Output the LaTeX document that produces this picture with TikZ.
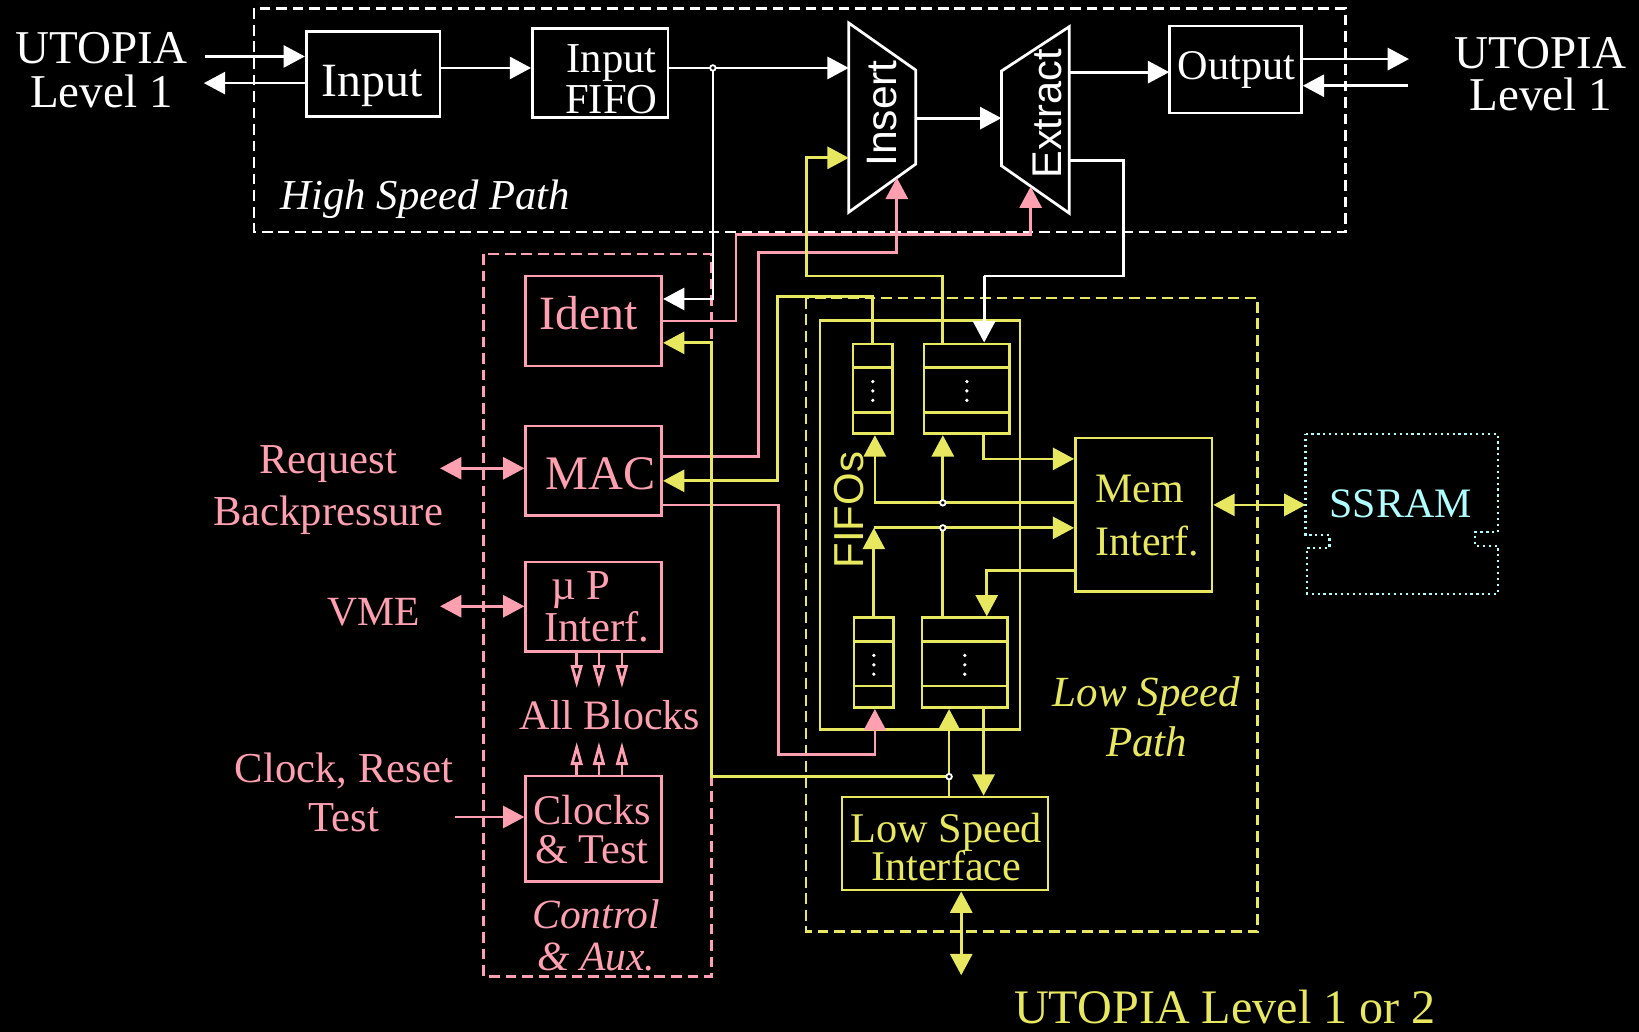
\documentclass[tikz,border=0pt]{standalone}
\usepackage{fontspec}
\setmainfont{Liberation Serif}
\setsansfont{Liberation Sans}
\usepackage{tikz}
\usetikzlibrary{calc, arrows.meta}
\usepackage{tkz-euclide}

\definecolor{pinkc}{RGB}{255,160,176}
\definecolor{ylwc}{RGB}{232,232,96}
\definecolor{cyanc}{RGB}{176,255,255}

\tikzset{
  >={Triangle[length=5.8pt,width=6pt]},
  wht/.style={draw=white, line width=0.75pt},
  pnk/.style={draw=pinkc, line width=0.75pt},
  ylw/.style={draw=ylwc, line width=0.75pt},
  region/.style={dash pattern=on 2.9pt off 1.6pt},
  blk/.style={rectangle, inner sep=0pt, fill=black},
  txt/.style={inner sep=0pt, anchor=base, align=center},
  jdot/.style={draw=white, fill=black, line width=0.5pt},
  hollow/.style={-{Triangle[open,length=6.3pt,width=3.2pt]}}
}

\begin{document}
\begin{tikzpicture}[x=0.01cm, y=-0.01cm]
\fill[black] (0,0) rectangle (1568,987);
\useasboundingbox (0,0) rectangle (1568,987);

% regions
\draw[wht, region] (243,8) rectangle (1287,222);
\draw[pnk, region] (462.6,243) rectangle (681,934);
\draw[ylw, region] (771,285) rectangle (1203,891);

% points
\tkzDefPoints{812/22/insTL, 876/67/insTR, 876/157/insBR, 812/203/insBL,
  958/68/extTL, 1023/25.5/extTR, 1023/204/extBR, 958/158.5/extBL}
\tkzDefPoints{196/54/uinL, 195/79.5/uoutL, 682/65/jw, 682/286/wId,
  1075/153.7/wE1, 941.5/264/wE2, 1348/56.5/uinR, 1347/82/uoutR}
\tkzDefPoints{704/224/pI1, 986/178.5/pI2, 726/437/pM0, 858/241.7/pM1,
  858/170/pM2, 744.6/483/pM3, 837/722/pM4, 421/448/rq, 421/580/vme, 435/781.6/crt}
\tkzDefPoints{744/284/yA, 744/460/yB, 902/264/yC, 771.7/151/yD, 908/743/jy,
  681/328/yE, 941/720/yF, 941/439/yG, 837/481/yH, 902/481/jm1, 836/505/yI,
  902/505/jm2, 944/546/yJ, 919.6/933/lsBus, 1249/483/sram}

% high speed path
\node[blk, wht, minimum width=1.28cm, minimum height=0.815cm] (inp) at (357,70.7) {};
\node[blk, wht, minimum width=1.295cm, minimum height=0.856cm] (ififo) at (574.2,69.8) {};
\node[blk, wht, minimum width=1.264cm, minimum height=0.83cm] (out) at (1181.8,66.5) {};
\draw[wht] (insTL) -- (insTR) -- (insBR) -- (insBL) -- cycle;
\draw[wht] (extTL) -- (extTR) -- (extBR) -- (extBL) -- cycle;

% control & aux
\node[blk, pnk, minimum width=1.3cm, minimum height=0.86cm] (ident) at (568,307) {};
\node[blk, pnk, minimum width=1.3cm, minimum height=0.855cm] (mac) at (568,450.2) {};
\node[blk, pnk, minimum width=1.3cm, minimum height=0.858cm] (up) at (568,580.5) {};
\node[blk, pnk, minimum width=1.3cm, minimum height=1.011cm] (clk) at (568,793) {};

% low speed path
\draw[ylw] (784.5,306.8) rectangle (975.8,698);
\foreach \f/\cx/\cy/\w in {fTL/835/372/0.38cm, fTR/925/372/0.82cm,
    fBL/836/634/0.38cm, fBR/923/634/0.82cm}{
  \node[blk, ylw, minimum width=\w, minimum height=0.86cm] (\f) at (\cx,\cy) {};
  \draw[ylw] ($(\f.north west)+(0,24)$) -- ($(\f.north east)+(0,24)$);
  \draw[ylw] ($(\f.south west)+(0,-22)$) -- ($(\f.south east)+(0,-22)$);
  \foreach \d in {-7,2,11}
    \fill[white] ($(\f.center)+(0,\d)$) circle (0.5pt);
}
\node[blk, ylw, minimum width=1.305cm, minimum height=1.47cm] (mem) at (1094.2,492.5) {};
\node[blk, ylw, minimum width=1.97cm, minimum height=0.89cm] (lsi) at (904.1,807) {};
\draw[draw=cyanc, line width=0.6pt, dash pattern=on 0.6pt off 1pt]
  (1249,415) -- (1433,415) -- (1433,509) -- (1411,509) -- (1411,522) -- (1433,522)
  -- (1433,568) -- (1250.5,568) -- (1250.5,524) -- (1272,524) -- (1272,512)
  -- (1249,512) -- cycle;

% white connectors
\draw[wht,->] (uinL) -- (uinL -| inp.west);
\draw[wht,->] (uoutL -| inp.west) -- (uoutL);
\draw[wht,->] (inp.east |- jw) -- (ififo.west |- jw);
\draw[wht,->] (ififo.east |- jw) -- (jw -| insTL);
\draw[wht,->] (jw) -- (wId) -- (wId -| ident.east);
\draw[wht,->] (876,113) -- (958,113);
\draw[wht,->] (out.west -| extTR) ++(0,2.5) -- ++(95.6,0);
\draw[wht] (extTR |- wE1) -- (wE1) |- (wE2);
\draw[wht,->] (wE2) -- (wE2 |- fTR.north);
\draw[wht,->] (uinR -| out.east) -- (uinR);
\draw[wht,->] (uoutR) -- (uoutR -| out.east);

% pink connectors
\draw[pnk,->] (ident.east) -| (pI1) -| (pI2);
\draw[pnk,->] (mac.east |- pM0) -- (pM0) |- (pM1) -- (pM2);
\draw[pnk,->] (mac.east |- pM3) -- (pM3) |- (pM4) -- (pM4 |- fBL.south);
\draw[pnk,<->] (rq) -- (rq -| mac.west);
\draw[pnk,<->] (vme) -- (vme -| up.west);
\draw[pnk,->] (crt) -- (crt -| clk.west);
\foreach \dx in {-16.3,5,27}{
  \draw[pnk,hollow] ($(up.south)+(\dx,0)$) -- ($(up.south)+(\dx,33.6)$);
  \draw[pnk,hollow] ($(clk.north)+(\dx,0)$) -- ($(clk.north)+(\dx,-31.4)$);
}

% yellow connectors
\draw[ylw,->] (fTL.north) |- (yA) -- (yB) -- (yB -| mac.east);
\draw[ylw,->] (yC |- fTR.north) -- (yC) -| (yD) -- (yD -| insTL);
\draw[ylw] (lsi.north -| jy) -- (jy);
\draw[ylw,->] (jy) -- (jy |- fBR.south);
\draw[ylw,->] (jy) -| (yE) -- (yE -| ident.east);
\draw[ylw,->] (yF |- fBR.south) -- (yF |- lsi.north);
\draw[ylw,<->] (lsi.south -| lsBus) -- (lsBus);
\draw[ylw,->] (fTR.south -| yG) |- (yG -| mem.west);
\draw[ylw,->] (yH -| mem.west) -- (yH) -- (yH |- fTL.south);
\draw[ylw,->] (jm1) -- (jm1 |- fTR.south);
\draw[ylw,->] (yI |- fBL.north) -- (yI);
\draw[ylw,->] (yI) -- (yI -| mem.west);
\draw[ylw] (jm2 |- fBR.north) -- (jm2);
\draw[ylw,->] (yJ -| mem.west) -- (yJ) -- (yJ |- fBR.north);
\draw[ylw,<->] (sram -| mem.east) -- (sram);
\foreach \j in {jw, jy, jm1, jm2}
  \draw[jdot] (\j) circle (0.75pt);

% white labels
\node[txt, white, font=\fontsize{12.8}{12}\selectfont] (utoL) at (97,102.7) {UTOPIA\\Level 1};
\node[txt, white, font=\fontsize{12.8}{11.55}\selectfont] (utoR) at (1474,106) {UTOPIA\\Level 1};
\node[txt, white, font=\fontsize{13}{13}\selectfont] (tInp) at (356,92.5) {Input};
\node[txt, white, font=\fontsize{11.6}{11.3}\selectfont] (tFifo) at (585,109) {Input\\FIFO};
\node[txt, white, font=\fontsize{11.5}{12}\selectfont] (tOut) at (1183,76.5) {Output};
\node[txt, white, rotate=90, font=\sffamily\fontsize{11.6}{12}\selectfont] (tIns) at (857.8,108.6) {Insert};
\node[txt, white, rotate=90, font=\sffamily\fontsize{11.3}{12}\selectfont] (tExt) at (1015.7,109) {Extract};
\node[txt, white, anchor=base west, font=\itshape\fontsize{11.6}{12}\selectfont] (tHsp) at (268,200) {High Speed Path};

% pink labels
\node[txt, pinkc, font=\fontsize{13}{13}\selectfont] (tId) at (563.4,315) {Ident};
\node[txt, pinkc, font=\fontsize{13.1}{13}\selectfont] (tMac) at (574.6,468) {MAC};
\node[txt, pinkc, anchor=base west, align=left, font=\fontsize{11.6}{10.5}\selectfont] (tUp) at (520,614) {\,µ P\\Interf.};
\node[txt, pinkc, font=\fontsize{11.4}{12}\selectfont] (tAll) at (583.6,698) {All Blocks};
\node[txt, pinkc, font=\fontsize{11.5}{10.5}\selectfont] (tClk) at (566.3,826) {Clocks\\\& Test};
\node[txt, pinkc, font=\itshape\fontsize{11.3}{11.4}\selectfont] (tCtl) at (570.5,928) {Control\\\& Aux.};
\node[txt, pinkc, font=\fontsize{11.6}{14.3}\selectfont] (tReq) at (314,503) {Request\\Backpressure};
\node[txt, pinkc, anchor=base east, font=\fontsize{11.3}{12}\selectfont] (tVme) at (402,598) {VME};
\node[txt, pinkc, font=\fontsize{11.6}{13.3}\selectfont] (tCrt) at (329,795.6) {Clock, Reset\\Test};

% yellow and cyan labels
\node[txt, ylwc, rotate=90, font=\sffamily\fontsize{11.4}{12}\selectfont] (tFifos) at (826,488) {FIFOs};
\node[txt, ylwc, anchor=base west, align=left, font=\fontsize{11.4}{14.2}\selectfont] (tMem) at (1047.5,531) {Mem\\Interf.};
\node[txt, ylwc, font=\itshape\fontsize{11.7}{13.8}\selectfont] (tLsp) at (1097,724) {Low Speed\\Path};
\node[txt, ylwc, font=\fontsize{11.5}{10.6}\selectfont] (tLsi) at (905.3,842.8) {Low Speed\\Interface};
\node[txt, ylwc, font=\fontsize{13.1}{13}\selectfont] (tUto2) at (1172,978.7) {UTOPIA Level 1 or 2};
\node[txt, cyanc, font=\fontsize{11.4}{12}\selectfont] (tSram) at (1340,494.7) {SSRAM};
\end{tikzpicture}
\end{document}
